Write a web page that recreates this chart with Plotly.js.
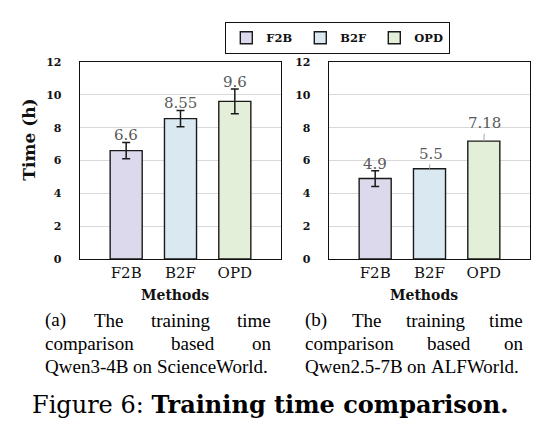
<!DOCTYPE html>
<html>
<head>
<meta charset="utf-8">
<script src="https://cdn.plot.ly/plotly-3.0.1.min.js"></script>
<style>
  html, body { margin: 0; padding: 0; background: #fff; }
  #chart { width: 552px; height: 442px; }
</style>
</head>
<body>
<div id="chart"></div>
<script>
// Training time (hours) per method, two settings
const methods = ['F2B', 'B2F', 'OPD'];
const timeSciWorld = [6.6, 8.55, 9.6];
const errSciWorld = [0.5, 0.5, 0.75];
const timeAlfWorld = [4.9, 5.5, 7.18];
const errAlfWorld = [0.48, NaN, NaN];
const yTicks = [0, 2, 4, 6, 8, 10, 12];

const methodColors = ['#dcd9ec', '#d9e8f1', '#e3efd9'];

const captionA = ['(a) The training time', 'comparison based on', 'Qwen3-4B on ScienceWorld.'];
const captionB = ['(b) The training time', 'comparison based on', 'Qwen2.5-7B on ALFWorld.'];
const figureLabel = 'Figure 6:';
const figureTitle = 'Training time comparison.';

const W = 552, H = 442;
const px = x => x / W;
const py = y => (H - y) / H;

const serif = 'DejaVu Serif, serif';
const textSerif = 'Liberation Serif, Times New Roman, serif';

const traces = [];
methods.forEach((m, i) => {
  traces.push({
    type: 'bar', x: [m], y: [timeSciWorld[i]], name: m,
    xaxis: 'x', yaxis: 'y', width: 0.59, legendgroup: m,
    marker: { color: methodColors[i], line: { color: '#1a1a1a', width: 1.4 } },
    error_y: { type: 'data', array: [errSciWorld[i]], visible: true,
               color: '#1a1a1a', thickness: 1.5, width: 4 },
    hoverinfo: 'skip'
  });
});
methods.forEach((m, i) => {
  traces.push({
    type: 'bar', x: [m], y: [timeAlfWorld[i]], name: m,
    xaxis: 'x2', yaxis: 'y2', width: 0.59, legendgroup: m, showlegend: false,
    marker: { color: methodColors[i], line: { color: '#1a1a1a', width: 1.4 } },
    error_y: { type: 'data', array: [errAlfWorld[i]], visible: true,
               color: '#1a1a1a', thickness: 1.5, width: 4 },
    hoverinfo: 'skip'
  });
});

const xAxisBase = {
  type: 'category', categoryorder: 'array', categoryarray: methods,
  range: [-0.85, 2.85], showline: true, mirror: true, linecolor: '#111', linewidth: 1.3,
  ticks: '', showgrid: false, zeroline: false,
  tickfont: { family: serif, size: 15, color: '#111' }, ticklabelstandoff: 0
};
const yAxisBase = {
  range: [0, 12], tickvals: yTicks, domain: [0.414, 0.8597],
  showline: true, mirror: true, linecolor: '#111', linewidth: 1.3,
  ticks: '', showgrid: true, gridcolor: '#d9d9d9', gridwidth: 1, zeroline: false,
  tickfont: { family: serif, size: 11, color: '#111', weight: 'bold' }, ticklabelstandoff: 15
};

const annotations = [];
const valueFont = { family: serif, size: 15, color: '#595959' };

// value labels: above the error bar where there is one, otherwise joined to the bar by a leader line
function addValueLabels(values, errs, xref, yref) {
  values.forEach((v, i) => {
    const e = errs[i];
    if (isFinite(e)) {
      annotations.push({ xref, yref, x: methods[i], y: v + e, text: String(v),
        showarrow: false, xanchor: 'center', yanchor: 'middle', yshift: 7, font: valueFont });
    } else {
      annotations.push({ xref, yref, x: methods[i], y: v, text: String(v),
        showarrow: true, arrowhead: 0, arrowwidth: 1, arrowcolor: '#a6a6a6',
        ax: 1, ay: i === 1 ? -15 : -18, font: valueFont });
    }
  });
}
addValueLabels(timeSciWorld, errSciWorld, 'x', 'y');
addValueLabels(timeAlfWorld, errAlfWorld, 'x2', 'y2');

// axis titles
const paperText = (x, y, text, font, extra) => Object.assign({
  xref: 'paper', yref: 'paper', x: px(x), y: py(y), text, showarrow: false,
  xanchor: 'center', yanchor: 'middle', font }, extra || {});
annotations.push(paperText(28.7, 140, 'Time (h)',
  { family: serif, size: 17, color: '#111', weight: 'bold' }, { textangle: -90 }));
annotations.push(paperText(175, 295, 'Methods', { family: serif, size: 14, color: '#111', weight: 'bold' }));
annotations.push(paperText(424, 295, 'Methods', { family: serif, size: 14, color: '#111', weight: 'bold' }));

// justified sub-captions, word by word
const capSize = 19;
const measureCtx = document.createElement('canvas').getContext('2d');
measureCtx.font = capSize + 'px "Liberation Serif"';
function addCaption(lines, left, right, yCenters) {
  lines.forEach((line, li) => {
    const words = line.split(' ');
    const widths = words.map(w => measureCtx.measureText(w).width);
    const total = widths.reduce((a, b) => a + b, 0);
    const last = li === lines.length - 1;
    const gap = last ? measureCtx.measureText(' ').width : (right - left - total) / (words.length - 1);
    let x = left;
    words.forEach((w, wi) => {
      annotations.push(paperText(x, yCenters[li], w,
        { family: textSerif, size: capSize, color: '#000' },
        { xanchor: 'left', borderpad: 0, borderwidth: 0 }));
      x += widths[wi] + gap;
    });
  });
}
addCaption(captionA, 45, 271, [320, 343, 366]);
addCaption(captionB, 305, 523, [320, 343, 366]);

annotations.push(paperText(270, 404, figureLabel + ' <b>' + figureTitle + '</b>',
  { family: serif, size: 24, color: '#000' }));

const layout = {
  width: W, height: H,
  margin: { l: 0, r: 0, t: 0, b: 0 },
  paper_bgcolor: '#fff', plot_bgcolor: '#fff',
  barmode: 'overlay', bargap: 0,
  showlegend: true,
  legend: {
    orientation: 'h', x: px(225), xanchor: 'left', y: py(22), yanchor: 'top',
    bordercolor: '#111', borderwidth: 1.3, bgcolor: '#fff',
    entrywidth: 29, entrywidthmode: 'pixels',
    font: { family: serif, size: 11.5, color: '#111', weight: 'bold' }, traceorder: 'normal'
  },
  xaxis: Object.assign({}, xAxisBase, { domain: [px(80), px(281)], anchor: 'y' }),
  yaxis: Object.assign({}, yAxisBase, { anchor: 'x' }),
  xaxis2: Object.assign({}, xAxisBase, { domain: [px(329), px(530)], anchor: 'y2' }),
  yaxis2: Object.assign({}, yAxisBase, { anchor: 'x2' }),
  annotations
};

Plotly.newPlot('chart', traces, layout, { staticPlot: true, displayModeBar: false });
</script>
</body>
</html>
